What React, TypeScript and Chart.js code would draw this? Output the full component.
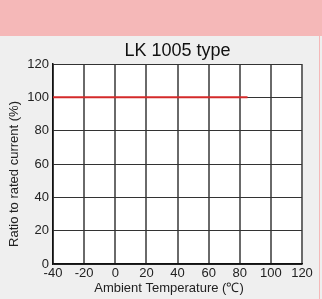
import React, { useEffect, useRef } from "react";
import { Chart, registerables } from "chart.js";

Chart.register(...registerables);

const chartTitle = "LK 1005 type";
const xAxisTitle = "Ambient Temperature (℃)";
const yAxisTitle = "Ratio to rated current (%)";
const temperatures = [-40, 85];
const ratioValues = [100, 100];
const xMin = -40;
const xMax = 120;
const xStep = 20;
const yMin = 0;
const yMax = 120;
const yStep = 20;

const FONT = "'Liberation Sans', Arial, Helvetica, sans-serif";

const backgroundPlugin = {
  id: "bgPlugin",
  beforeDraw(chart: any) {
    const { ctx, width, height, chartArea } = chart;
    ctx.save();
    ctx.fillStyle = "#efefef";
    ctx.fillRect(0, 0, width, height);
    ctx.fillStyle = "#f5b8b8";
    ctx.fillRect(0, 0, width, 36);
    ctx.fillRect(319, 36, 1, height - 36);
    ctx.fillStyle = "#ffffff";
    ctx.fillRect(chartArea.left, chartArea.top, chartArea.right - chartArea.left, chartArea.bottom - chartArea.top);
    ctx.restore();
  },
};

const axisTitlePlugin = {
  id: "axisTitles",
  afterDraw(chart: any) {
    const { ctx } = chart;
    ctx.save();
    ctx.fillStyle = "#222";
    ctx.font = `13px ${FONT}`;
    ctx.textAlign = "center";
    ctx.textBaseline = "middle";
    ctx.fillText(xAxisTitle, 169, 288);
    ctx.translate(14, 174);
    ctx.rotate(-Math.PI / 2);
    ctx.fillText(yAxisTitle, 0, 0);
    ctx.restore();
  },
};

export default function App() {
  const ref = useRef<HTMLCanvasElement | null>(null);
  useEffect(() => {
    document.body.style.margin = "0";
    if (!ref.current) return;
    const chart = new Chart(ref.current, {
      type: "scatter",
      data: {
        datasets: [
          {
            data: temperatures.map((t, i) => ({ x: t, y: ratioValues[i] })),
            showLine: true,
            borderColor: "#d42a2a",
            borderWidth: 2,
            pointRadius: 0,
            pointHoverRadius: 0,
          },
        ],
      },
      options: {
        responsive: false,
        animation: false,
        layout: { padding: { left: 0, right: 20, top: 0, bottom: 0 } },
        plugins: {
          legend: { display: false },
          tooltip: { enabled: false },
          title: {
            display: true,
            text: chartTitle,
            fullSize: false,
            color: "#111",
            font: { family: FONT, size: 18, weight: "normal" },
            padding: { top: 40.5, bottom: 1.9 },
          },
        },
        scales: {
          x: {
            type: "linear",
            min: xMin,
            max: xMax,
            ticks: { stepSize: xStep, color: "#222", font: { family: FONT, size: 13 }, padding: 2, maxRotation: 0 },
            grid: { color: "#6a6a6a", lineWidth: 2, drawTicks: false },
            border: { color: "#111", width: 1.5 },
            title: { display: false, text: xAxisTitle },
            afterFit(scale: any) {
              scale.height = 35;
            },
          },
          y: {
            min: yMin,
            max: yMax,
            ticks: { stepSize: yStep, color: "#222", font: { family: FONT, size: 13 }, padding: 4 },
            grid: { color: "#333", lineWidth: 1, drawTicks: false },
            border: { color: "#111", width: 1.5 },
            title: { display: false, text: yAxisTitle },
            afterFit(scale: any) {
              scale.width = 53;
            },
          },
        },
      },
      plugins: [backgroundPlugin, axisTitlePlugin],
    });
    return () => chart.destroy();
  }, []);
  return <canvas ref={ref} width={322} height={299} style={{ display: "block" }} />;
}
